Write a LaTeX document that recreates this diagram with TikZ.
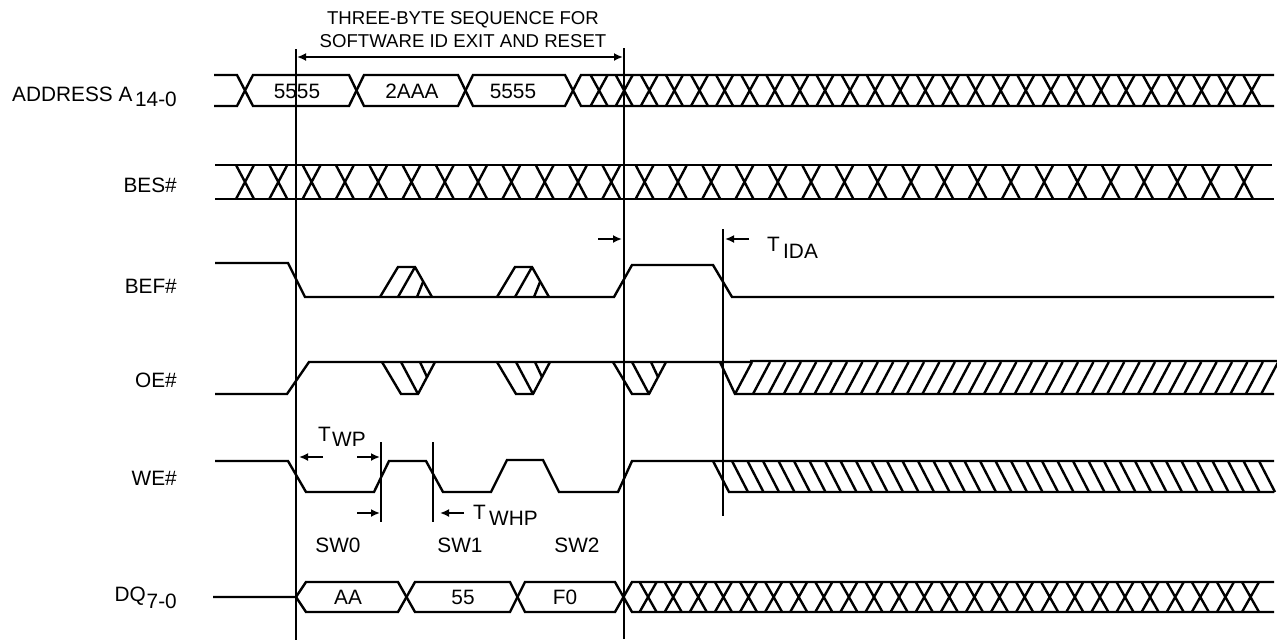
\documentclass[tikz,border=0pt]{standalone}
\usepackage{fontspec}
\setmainfont{Liberation Sans}
\usetikzlibrary{arrows.meta,calc}

\begin{document}
\begin{tikzpicture}[x=1pt,y=-1pt,>={Latex[length=9pt,width=8pt]}]
    \tikzstyle{wave}=[line width=2.4pt, line join=miter]
    \tikzstyle{guide}=[line width=1.8pt]
    \tikzstyle{dim}=[line width=2pt, ->]
    \tikzstyle{lbl}=[inner sep=0pt, font=\fontsize{20.8}{24}\selectfont]
    \tikzstyle{head}=[inner sep=0pt, font=\fontsize{18.6}{22}\selectfont]
    \useasboundingbox (0,0) rectangle (1277,641);

    % signal names
    \node[lbl, anchor=base west] (addrname) at (12,101) {ADDRESS A};
    \node[lbl, anchor=base east] (addrsub) at (177,106) {14-0};
    \node[lbl, anchor=base east] (besname) at (177,192) {BES\#};
    \node[lbl, anchor=base east] (befname) at (177,293) {BEF\#};
    \node[lbl, anchor=base east] (oename) at (177,387) {OE\#};
    \node[lbl, anchor=base east] (wename) at (177,485) {WE\#};
    \node[lbl, anchor=base east] (dqname) at (146,601) {DQ};
    \node[lbl, anchor=base east] (dqsub) at (177,608) {7-0};

    % address
    \draw[wave] (214,75) -- (237,75) -- (253,106) -- (349,106) -- (364,75) -- (458,75) -- (473,106) -- (565,106) -- (581,75) -- (1274,75);
    \draw[wave] (214,106) -- (237,106) -- (253,75) -- (349,75) -- (364,106) -- (458,106) -- (473,75) -- (565,75) -- (581,106) -- (1274,106);
    \foreach \k in {1,...,27}
      \draw[wave] ({574+25.1*\k-8.5},75) -- ({574+25.1*\k+8.5},106) ({574+25.1*\k-8.5},106) -- ({574+25.1*\k+8.5},75);
    \node[lbl, anchor=base] (addr1) at (297,98) {5555};
    \node[lbl, anchor=base] (addr2) at (412,98) {2AAA};
    \node[lbl, anchor=base] (addr3) at (513,98) {5555};

    % BES#
    \draw[wave] (215,165) -- (1272,165) (215,199) -- (1274,199);
    \foreach \k in {0,...,30}
      \draw[wave] ({245+33.3*\k-9},165) -- ({245+33.3*\k+9},199) ({245+33.3*\k-9},199) -- ({245+33.3*\k+9},165);

    % BEF#
    \draw[wave] (215,263) -- (288,263) -- (305,297) -- (614,297) -- (632,265) -- (713,265) -- (732,297) -- (1274,297);
    \foreach \x in {380,497} {
      \draw[wave] (\x,297) -- ({\x+18},267) -- ({\x+35},267) -- ({\x+52},297);
      \draw[wave] ({\x+18},297) -- ({\x+35},267) ({\x+37},297) -- ({\x+43},282);
    }

    % OE#
    \draw[wave] (215,394) -- (287,394) -- (309,362) -- (752,362);
    \foreach \x in {382,497,613} {
      \draw[wave] (\x,362) -- ({\x+19},394) -- ({\x+36},394) -- ({\x+53},362);
      \draw[wave] ({\x+19},362) -- ({\x+36},394) ({\x+38},362) -- ({\x+45},377);
    }
    \draw[wave] (720,362) -- (735,394) -- (1274,394) (750,361) -- (1277,361);
    \draw[wave] (735,394) -- (752,362);
    \foreach \k in {0,...,33}
      \draw[wave] ({753+15.4*\k},394) -- ({770+15.4*\k},362);

    % WE#
    \draw[wave] (215,461) -- (288,461) -- (306,492) -- (374,492) -- (389,461) -- (426,461) -- (443,492) -- (491,492) -- (507,460) -- (543,460) -- (559,492) -- (618,492) -- (632,461) -- (1274,461);
    \draw[wave] (713,461) -- (729,492) -- (1274,492);
    \foreach \k in {0,...,34}
      \draw[wave] ({732+15.5*\k},461) -- ({748+15.5*\k},492);

    % DQ
    \draw[wave] (213,597) -- (296,597) -- (306,582) -- (398,582) -- (415,612) -- (510,612) -- (525,582) -- (615,582) -- (632,612) -- (1274,612);
    \draw[wave] (296,597) -- (306,612) -- (398,612) -- (415,582) -- (510,582) -- (525,612) -- (615,612) -- (632,582) -- (1274,582);
    \foreach \k in {1,...,25}
      \draw[wave] ({623+25.1*\k-8.5},582) -- ({623+25.1*\k+8.5},612) ({623+25.1*\k-8.5},612) -- ({623+25.1*\k+8.5},582);
    \node[lbl, anchor=base] (dq1) at (348,604) {AA};
    \node[lbl, anchor=base] (dq2) at (463,604) {55};
    \node[lbl, anchor=base] (dq3) at (565,604) {F0};

    % guide lines
    \coordinate (gstarttop) at (296,49);
    \coordinate (gstartbot) at (296,640);
    \coordinate (gendtop) at (624,48);
    \coordinate (gendbot) at (624,639);
    \draw[guide] (gstarttop) -- (gstartbot);
    \draw[guide] (gendtop) -- (gendbot);
    \draw[guide] (723,229) -- (723,516);
    \draw[guide] (381,442) -- (381,522);
    \draw[guide] (433,442) -- (433,522);

    % heading
    \node[head, anchor=base] (headone) at (463,24) {THREE-BYTE SEQUENCE FOR};
    \node[head, anchor=base] (headtwo) at (463,47) {SOFTWARE ID EXIT AND RESET};
    \coordinate (spanleft) at (297,57);
    \coordinate (spanright) at (623,57);
    \draw[dim, <->] (spanleft) -- (spanright);

    % timing marks
    \draw[dim] (598,239) -- (622,239);
    \draw[dim] (749,239) -- (725,239);
    \node[lbl, anchor=base west] (tida) at (767,251) {T};
    \node[lbl, anchor=base west] (tidasub) at (783,258) {IDA};
    \draw[dim] (323,457) -- (299,457);
    \draw[dim] (357,457) -- (380,457);
    \node[lbl, anchor=base west] (twp) at (318,441) {T};
    \node[lbl, anchor=base west] (twpsub) at (332,446) {WP};
    \draw[dim] (357,513) -- (380,513);
    \draw[dim] (464,513) -- (440,513);
    \node[lbl, anchor=base west] (twhp) at (473,519) {T};
    \node[lbl, anchor=base west] (twhpsub) at (489,525) {WHP};

    % switch labels
    \node[lbl, anchor=base] (swzero) at (338,552) {SW0};
    \node[lbl, anchor=base] (swone) at (460,552) {SW1};
    \node[lbl, anchor=base] (swtwo) at (577,552) {SW2};
\end{tikzpicture}
\end{document}
